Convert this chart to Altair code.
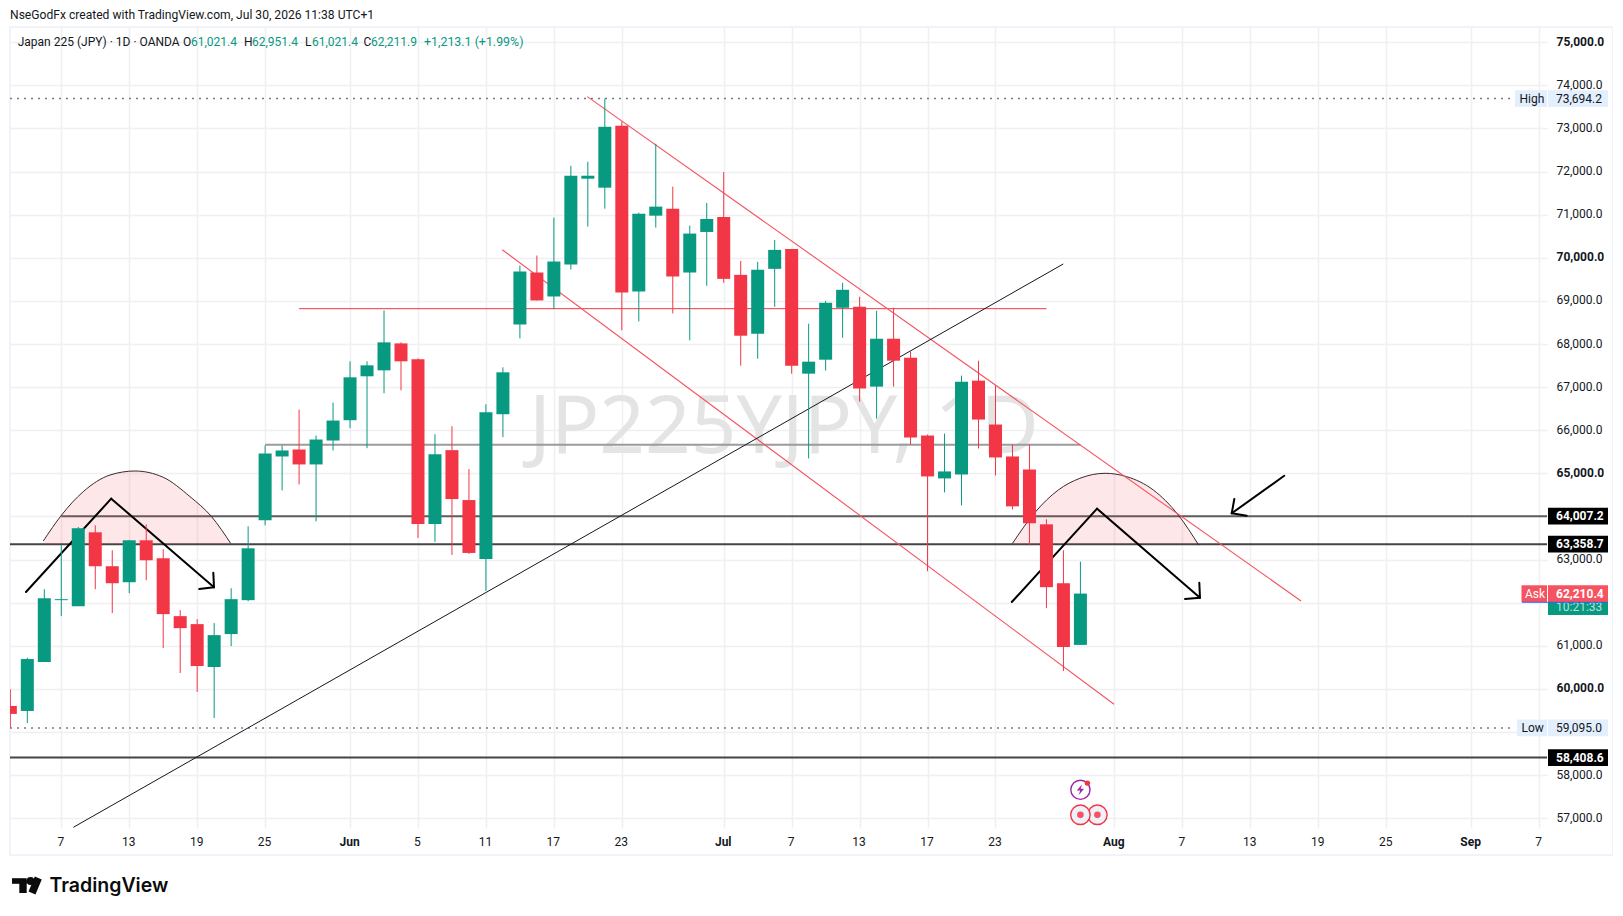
import altair as alt
import pandas as pd

opens = [59605,59489,60623,62059,61920,63633,62846,62475,63448,63031,61688,61503,60508,61272,62059,63910,
         65392,65554,65207,65762,66233,67252,67390,68015,67645,63826,65539,64381,63015,66372,68455,69659,
         69103,69844,71835,71627,73062,69219,70978,71140,69659,70600,70947,69605,68239,69744,70207,67313,
         67637,68841,68864,67012,68123,67684,65878,64883,64975,67151,66133,65392,65091,63818,62452,61021.4]
closes = [59420,60693,62105,62082,63725,62846,62452,63448,62985,61735,61410,60531,61248,62082,63262,65461,
          65531,65207,65785,66225,67228,67506,68039,67599,63826,65446,64404,63154,66418,67344,69682,69011,
          69914,71904,71904,73039,69196,71025,71187,69566,70562,70901,69512,68193,69721,70184,67498,67591,
          68957,69258,66966,68123,67614,65832,64929,65045,67128,66248,65369,64235,63841,62360,60971,62211.9]
highs = [59991,60724,62313,63332,63756,63795,63216,63448,63818,63239,61827,61619,61526,62336,63772,65647,
         65647,66480,65878,66642,67599,67599,68779,68039,67668,65909,66094,65099,66603,67460,69821,70052,
         70932,72136,72228,73694.2,73154,71048,72645,71650,70747,71272,71989,69929,69906,70415,70207,68471,
         69003,69420,69096,68772,68841,67823,65901,65924,67267,67614,67035,65670,65670,63934,63216,62951.4]
lows = [59095,59211,60623,61688,61920,62313,61758,62221,62522,60948,60369,59929,59327,60994,62035,63795,
        64605,64744,63887,65531,66048,65585,66858,66927,63502,63409,63108,63131,62275,65840,68131,69011,
        68810,69728,70724,71140,68316,68525,70701,68710,68085,69350,69420,67498,67660,68864,67313,65346,
        67383,68147,66665,66272,67012,65670,62730,64559,64258,65577,64952,64165,63332,61873,60415,61021.4]

price_ticks = list(range(57000, 75001, 1000))
hidden_price_labels = [59000, 62000, 64000]
time_ticks = [3,7,11,15,20,24,28,32,36,42,46,50,54,58,65,69,73,77,81,86,90]
time_labels = ["7","13","19","25","Jun","5","11","17","23","Jul","7","13","17","23","Aug","7","13","19","25","Sep","7"]
month_ticks = [20,42,65,86]

# horizontal levels: price, start bar, end bar
level_p = [64007.2, 63358.7, 58408.6, 65665, 68820]
level_a = [3, -0.02, -0.02, 15, 17]
level_b = [90.47, 90.47, 90.47, 63, 61]
level_c = ["#5d5d5d", "#444444", "#444444", "#9b9b9b", "#F23645"]
level_w = [2, 2, 2, 2, 1]

# channel and trend lines: bar, price, bar, price
red_lines = [(33.97,73738,75.99,62040),(28.96,70188,64.98,59644)]
black_lines = [(3.71,56790,61.99,69857)]
arrow_lines = [(0.92,62248,5.94,64413),(5.94,64413,11.99,62357),(11.95,62696,11.99,62357),(11.12,62318,11.99,62357),
               (58.96,62016,63.98,64181),(63.98,64181,70.04,62116),(70.0,62464,70.04,62116),(69.16,62086,70.04,62116),
               (75.0,64946,71.91,64074),(72.06,64406,71.91,64074),(72.79,64018,71.91,64074)]

arc1_i = [1.94,3.02,4.29,5.87,7.34,9.0,10.58,11.85,12.97]
arc1_p = [63431,64035,64575,64962,65055,64909,64459,63995,63378]
arc2_i = [58.99,60.33,61.7,62.97,64.45,65.73,67.29,68.76,69.97]
arc2_p = [63369,64097,64615,64886,65002,64923,64615,64035,63332]

GREEN = "#089981"; RED = "#F23645"; PINK = "#F7525F"; INK = "#131722"; GRID = "#f0f0f2"; FRAME = "#f0f3fa"
FONT = "Roboto"

label_map = "{" + ",".join(f"'{t}':'{l}'" for t, l in zip(time_ticks, time_labels)) + "}"
month_test = "indexof([" + ",".join(map(str, month_ticks)) + "],datum.value)>=0"
hide_test = "indexof([" + ",".join(map(str, hidden_price_labels)) + "],datum.value)>=0"

xs = alt.Scale(domain=[-0.02, 90.47], nice=False, zero=False, padding=0)
ys = alt.Scale(domain=[56774, 75354], nice=False, zero=False, padding=0)
x_axis = alt.Axis(
    orient="bottom", values=time_ticks, labelExpr=f"({label_map})[datum.value]",
    domain=False, ticks=False, grid=True, gridColor=GRID, gridWidth=1.5,
    labelFont=FONT, labelFontSize=12, labelColor=INK, labelPadding=8, labelAngle=0, labelOffset=-1,
    labelOverlap=False, labelFlush=False, labelBound=False,
    labelFontWeight={"condition": {"test": month_test, "value": "bold"}, "value": "normal"})
y_axis = alt.Axis(
    orient="right", values=price_ticks, labelExpr=f"{hide_test} ? '' : format(datum.value, ',.1f')",
    domain=False, ticks=False, grid=True, gridColor=GRID, gridWidth=1.5,
    labelFont=FONT, labelFontSize=12, labelColor=INK, labelPadding=9, labelOffset=-1,
    labelOverlap=False, labelFlush=False, labelBound=False,
    labelFontWeight={"condition": {"test": "datum.value % 5000 === 0", "value": "bold"}, "value": "normal"})
X = lambda f: alt.X(f, type="quantitative", scale=xs, axis=x_axis, title=None)
Y = lambda f: alt.Y(f, type="quantitative", scale=ys, axis=y_axis, title=None)

df = pd.DataFrame({"i": range(len(opens)), "o": opens, "c": closes, "h": highs, "l": lows})
df["dir"] = ["up" if c >= o else "down" for o, c in zip(opens, closes)]
dir_color = alt.Color("dir:N", scale=alt.Scale(domain=["up", "down"], range=[GREEN, RED]), legend=None)

axes = alt.Chart(pd.DataFrame({"i": [0], "p": [60000]})).mark_point(opacity=0).encode(x=X("i"), y=Y("p"))

one = pd.DataFrame({"a": [0]})


def text(s, px, py, **kw):
    opts = dict(align="left", baseline="middle", font=FONT, fontSize=12, color=INK)
    opts.update(kw)
    return alt.Chart(one).mark_text(text=s, **opts).encode(x=alt.value(px - 10), y=alt.value(py - 27))


def hbar(x0, x1, py, color, w=2):
    return alt.Chart(one).mark_rule(color=color, strokeWidth=w).encode(
        x=alt.value(x0 - 10), x2=alt.value(x1 - 10), y=alt.value(py - 27))


def vbar(px, y0, y1, color, w=2):
    return alt.Chart(one).mark_rule(color=color, strokeWidth=w).encode(
        x=alt.value(px - 10), y=alt.value(y0 - 27), y2=alt.value(y1 - 27))


def segs(rows, **kw):
    d = pd.DataFrame(rows, columns=["a", "p", "b", "q"])
    return alt.Chart(d).mark_rule(clip=True, **kw).encode(x=X("a"), x2="b", y=Y("p"), y2="q")


def pill(price, x0, x1, color, h=16.7):
    return alt.Chart(pd.DataFrame({"p": [price]})).mark_rule(color=color, strokeWidth=h).encode(
        x=alt.value(x0 - 10), x2=alt.value(x1 - 10), y=Y("p"))


def pill_text(price, s, px, color, dy=0, **kw):
    return alt.Chart(pd.DataFrame({"p": [price]})).mark_text(
        text=s, align="left", baseline="middle", font=FONT, fontSize=12, color=color, dy=dy, **kw
    ).encode(x=alt.value(px - 10), y=Y("p"))


watermark = text("JP225YJPY, 1D", 784, 453, align="center", baseline="alphabetic",
                 font="Noto Sans", fontSize=80, color="#e4e4e4")

levels = alt.Chart(pd.DataFrame({"p": level_p, "a": level_a, "b": level_b, "c": level_c, "w": level_w})).mark_rule(clip=True).encode(
    x=X("a"), x2="b", y=Y("p"), color=alt.Color("c:N", scale=None), strokeWidth=alt.StrokeWidth("w:Q", scale=None))

dots = alt.Chart(pd.DataFrame({"p": [73694.2, 59095.0]})).mark_rule(
    color="#787b86", strokeWidth=1.5, strokeDash=[2, 5]).encode(
    x=alt.value(0), x2=alt.value(1505), y=Y("p"))

arcs = pd.DataFrame({"i": arc1_i + arc2_i, "p": arc1_p + arc2_p,
                     "k": ["a"] * len(arc1_i) + ["b"] * len(arc2_i), "base": [63358.7] * (len(arc1_i) + len(arc2_i))})
arc_fill = alt.Chart(arcs).mark_area(interpolate="monotone", color=RED, opacity=0.12).encode(
    x=X("i"), y=Y("p"), y2="base", detail="k:N")
arc_line = alt.Chart(arcs).mark_line(interpolate="monotone", color="#3a2a2c", strokeWidth=1).encode(
    x=X("i"), y=Y("p"), detail="k:N")

wicks = alt.Chart(df).mark_rule(strokeWidth=1, clip=True).encode(x=X("i"), y=Y("h"), y2="l", color=dir_color)
bodies = alt.Chart(df).mark_bar(size=13, clip=True).encode(x=X("i"), y=Y("o"), y2="c", color=dir_color)

circles = alt.Chart(pd.DataFrame({"i": [64, 63], "p": [57080, 57080]})).mark_point(
    size=380, filled=False, stroke=RED, strokeWidth=1.4, fill="#eef1fa", fillOpacity=1).encode(x=X("i"), y=Y("p"))
circle_dots = alt.Chart(pd.DataFrame({"i": [64, 63], "p": [57080, 57080]})).mark_point(
    size=44, filled=True, color=PINK, opacity=1).encode(x=X("i"), y=Y("p"))
ring = alt.Chart(pd.DataFrame({"i": [63], "p": [57660]})).mark_point(
    size=370, filled=False, stroke="#9C27B0", strokeWidth=1.4, fill="white", fillOpacity=1).encode(x=X("i"), y=Y("p"))
bolt = alt.Chart(pd.DataFrame({"i": [63], "p": [57660]})).mark_point(
    shape="M0.3,-1 L-0.7,0.15 L-0.05,0.15 L-0.3,1 L0.7,-0.2 L0.05,-0.2 Z", size=110, filled=True,
    color="#9C27B0", opacity=1).encode(x=X("i"), y=Y("p"))
bolt_dot = alt.Chart(pd.DataFrame({"i": [63.41], "p": [57815]})).mark_point(
    size=30, filled=True, color=RED, opacity=1).encode(x=X("i"), y=Y("p"))

header = [
    text("NseGodFx created with TradingView.com, Jul 30, 2026 11:38 UTC+1", 10, 14.5, fontSize=12.1),
    text("Japan 225 (JPY) · 1D · OANDA", 17.7, 42),
    text("O", 183, 42), text("61,021.4", 191, 42, color=GREEN),
    text("H", 244, 42), text("62,951.4", 252, 42, color=GREEN),
    text("L", 305, 42), text("61,021.4", 312, 42, color=GREEN),
    text("C", 363.5, 42), text("62,211.9", 371, 42, color=GREEN),
    text("+1,213.1 (+1.99%)", 424, 42, fontSize=12.4, color=GREEN),
]

frame = [
    hbar(9, 1614, 27, FRAME), hbar(9, 1614, 855, FRAME),
    vbar(10, 26, 856, FRAME), vbar(1613, 26, 856, FRAME),
]

pills = [
    pill(64007.2, 1548, 1608, "black"), pill_text(64007.2, "64,007.2", 1556, "white", fontWeight="bold"),
    pill(63358.7, 1548, 1608, "black"), pill_text(63358.7, "63,358.7", 1556, "white", fontWeight="bold"),
    pill(58408.6, 1548, 1608, "black"), pill_text(58408.6, "58,408.6", 1556, "white", fontWeight="bold"),
    pill(73694.2, 1515, 1547, "#e3effd"), pill(73694.2, 1548, 1608, "#e3effd"),
    pill_text(73694.2, "High", 1519.5, INK), pill_text(73694.2, "73,694.2", 1556, INK),
    pill(59095.0, 1517, 1547, "#e3effd"), pill(59095.0, 1548, 1608, "#e3effd"),
    pill_text(59095.0, "Low", 1521.5, INK), pill_text(59095.0, "59,095.0", 1556, INK),
    pill(61890, 1548, 1608, GREEN, 15), pill_text(61890, "10:21:33", 1556, "#b7e2d9"),
    pill(62210.4, 1521.5, 1547, PINK), pill(62210.4, 1548, 1608, PINK),
    pill_text(62210.4, "Ask", 1525, "white"), pill_text(62210.4, "62,210.4", 1556, "white", fontWeight="bold"),
    hbar(1522, 1608, 602.3, "#2962FF", 1),
]

logo = [
    hbar(12, 26.7, 881, "#0b0b0b", 5.6), vbar(23, 880, 893, "#0b0b0b", 7.4),
    alt.Chart(one).mark_point(size=62, filled=True, color="#0b0b0b", opacity=1).encode(x=alt.value(30.5 - 10), y=alt.value(881 - 27)),
    alt.Chart(one).mark_rule(color="#0b0b0b", strokeWidth=7.5).encode(
        x=alt.value(38.3 - 10), x2=alt.value(32 - 10), y=alt.value(878 - 27), y2=alt.value(893 - 27)),
    text("TradingView", 49.5, 886, fontSize=19.5, fontWeight=600, font="Inter", color="#0b0b0b"),
]

layers = [axes, watermark] + frame + [levels, dots, arc_fill, arc_line,
          segs(red_lines, color=PINK, strokeWidth=1.1),
          segs(black_lines, color=INK, strokeWidth=1),
          segs(arrow_lines, color="black", strokeWidth=2, strokeCap="round"),
          wicks, bodies, circles, circle_dots, ring, bolt, bolt_dot] + header + pills + logo

chart = alt.layer(*layers).properties(
    width=1537, height=801,
    padding={"left": 2, "top": 19, "right": 66, "bottom": 70},
    autosize=alt.AutoSizeParams(type="none"),
    background="white",
).configure_view(stroke=None)

chart.save("out.html", embed_options={"renderer": "svg", "actions": False})
